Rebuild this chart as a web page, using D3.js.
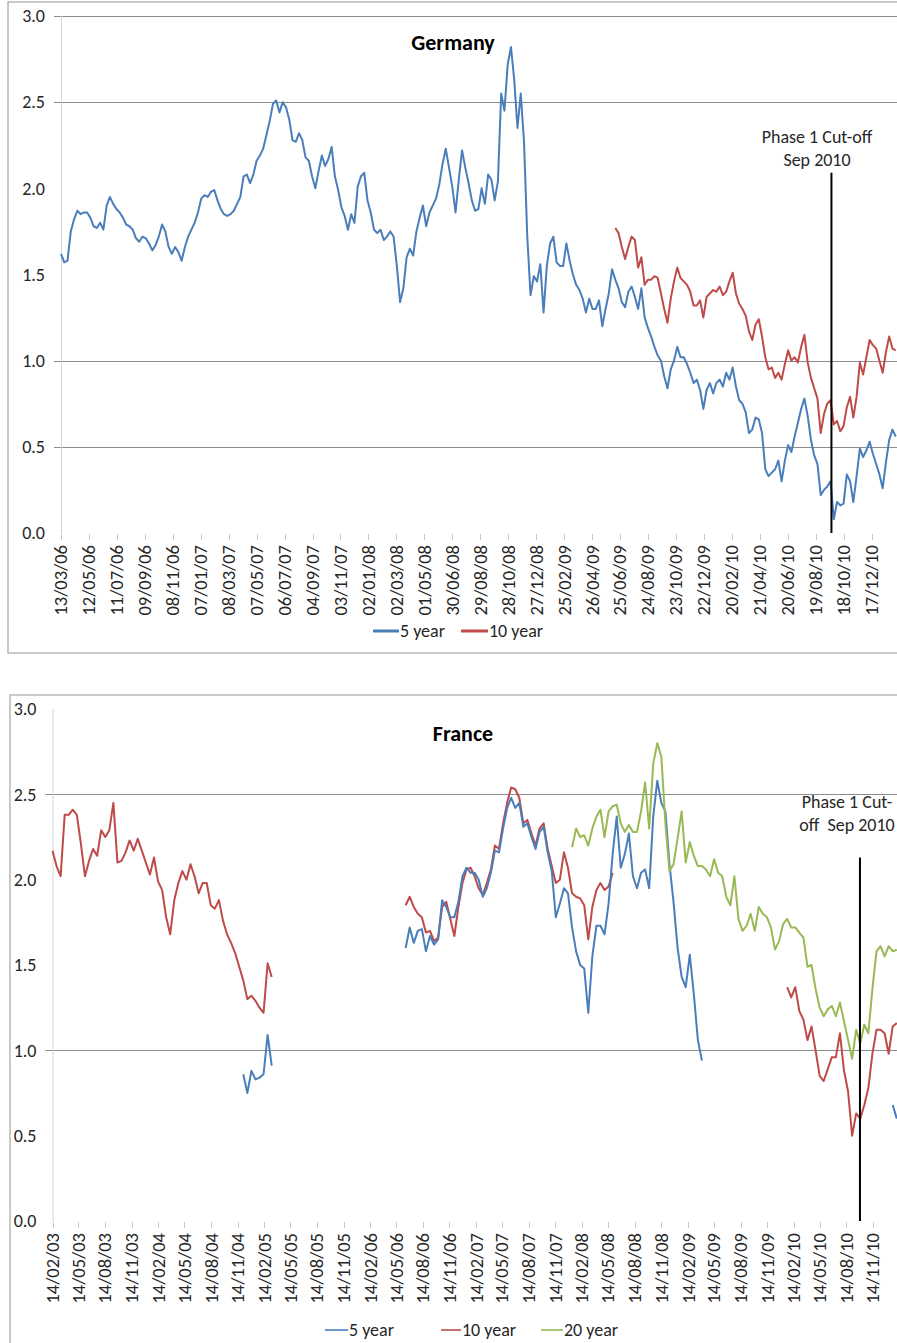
<!DOCTYPE html>
<html>
<head>
<meta charset="utf-8">
<script src="https://cdn.jsdelivr.net/npm/d3@7"></script>
<style>
  html, body { margin: 0; padding: 0; background: #fff; }
  svg { display: block; }
  text { font-family: Carlito, Lato, "Open Sans", sans-serif; fill: #262626; white-space: pre; }
</style>
</head>
<body>
<svg id="chart" width="897" height="1343"></svg>
<script>
// ---------- data ----------
const yTicks = [0, 0.5, 1, 1.5, 2, 2.5, 3];
const deGridValues = [3, 2.5, 1, 0.5];
const frGridValues = [2.5, 1];

const deTickLabels = ["13/03/06","12/05/06","11/07/06","09/09/06","08/11/06","07/01/07","08/03/07",
  "07/05/07","06/07/07","04/09/07","03/11/07","02/01/08","02/03/08","01/05/08","30/06/08","29/08/08",
  "28/10/08","27/12/08","25/02/09","26/04/09","25/06/09","24/08/09","23/10/09","22/12/09","20/02/10",
  "21/04/10","20/06/10","19/08/10","18/10/10","17/12/10"];
const frTickLabels = ["14/02/03","14/05/03","14/08/03","14/11/03","14/02/04","14/05/04","14/08/04",
  "14/11/04","14/02/05","14/05/05","14/08/05","14/11/05","14/02/06","14/05/06","14/08/06","14/11/06",
  "14/02/07","14/05/07","14/08/07","14/11/07","14/02/08","14/05/08","14/08/08","14/11/08","14/02/09",
  "14/05/09","14/08/09","14/11/09","14/02/10","14/05/10","14/08/10","14/11/10"];

// Germany — weekly samples
const de5Start = "2006-03-13";
const de5 = [
  1.62,1.57,1.58,1.75,1.82,1.87,1.85,1.86,1.86,1.83,
  1.78,1.77,1.80,1.76,1.90,1.95,1.91,1.88,1.86,1.83,
  1.79,1.78,1.76,1.71,1.69,1.72,1.71,1.68,1.64,1.67,
  1.72,1.79,1.75,1.66,1.62,1.66,1.63,1.58,1.66,1.72,
  1.76,1.80,1.86,1.94,1.96,1.95,1.98,1.99,1.93,1.88,
  1.85,1.84,1.85,1.87,1.91,1.95,2.07,2.08,2.03,2.08,
  2.16,2.19,2.23,2.31,2.39,2.49,2.51,2.44,2.50,2.47,
  2.40,2.28,2.27,2.32,2.28,2.18,2.16,2.07,2.00,2.10,
  2.19,2.13,2.17,2.24,2.07,1.99,1.89,1.84,1.76,1.85,
  1.80,2.01,2.07,2.09,1.93,1.86,1.76,1.74,1.76,1.70,
  1.72,1.75,1.72,1.55,1.34,1.42,1.60,1.65,1.61,1.75,
  1.83,1.90,1.78,1.86,1.90,1.94,2.02,2.14,2.23,2.12,
  2.01,1.86,2.05,2.22,2.12,2.03,1.93,1.87,1.88,2.00,
  1.91,2.08,2.05,1.93,2.04,2.55,2.45,2.72,2.82,2.63,
  2.35,2.55,2.27,1.72,1.38,1.49,1.46,1.56,1.28,1.55,
  1.68,1.72,1.57,1.55,1.55,1.68,1.58,1.50,1.44,1.41,
  1.36,1.28,1.36,1.30,1.30,1.35,1.20,1.30,1.39,1.53,
  1.47,1.42,1.34,1.31,1.40,1.43,1.37,1.30,1.42,1.25,
  1.19,1.14,1.08,1.03,1.00,0.91,0.84,0.95,1.00,1.08,
  1.02,1.02,0.98,0.93,0.87,0.89,0.83,0.72,0.83,0.87,
  0.81,0.87,0.89,0.85,0.93,0.89,0.96,0.85,0.77,0.75,
  0.70,0.58,0.60,0.67,0.66,0.58,0.37,0.33,0.35,0.37,
  0.42,0.30,0.42,0.51,0.47,0.56,0.64,0.72,0.78,0.68,
  0.54,0.45,0.40,0.22,0.25,0.27,0.30,0.08,0.18,0.16,
  0.17,0.34,0.30,0.18,0.33,0.49,0.44,0.48,0.53,0.46,
  0.40,0.34,0.26,0.41,0.54,0.60,0.56
];
const de10Start = "2009-06-15";
const de10 = [
  1.77,1.74,1.66,1.59,1.66,1.72,1.70,1.54,1.60,1.44,
  1.47,1.47,1.49,1.48,1.39,1.30,1.22,1.36,1.46,1.54,
  1.48,1.46,1.44,1.40,1.32,1.32,1.35,1.25,1.37,1.39,
  1.41,1.40,1.43,1.38,1.40,1.46,1.51,1.39,1.33,1.30,
  1.26,1.17,1.12,1.21,1.24,1.14,1.02,0.95,0.96,0.90,
  0.93,0.89,0.98,1.06,1.00,1.02,0.99,1.08,1.15,0.99,
  0.90,0.84,0.78,0.58,0.69,0.75,0.77,0.63,0.65,0.59,
  0.62,0.73,0.79,0.67,0.79,0.99,0.92,1.02,1.12,1.09,
  1.07,1.00,0.93,1.05,1.14,1.07,1.06
];

// France — fortnightly samples, each run is its own segment
const fr10aStart = "2003-02-14";
const fr10a = [
  2.17,2.08,2.02,2.38,2.38,2.41,2.38,2.21,2.02,2.11,
  2.18,2.14,2.29,2.25,2.29,2.45,2.10,2.11,2.16,2.23,
  2.17,2.24,2.17,2.10,2.03,2.13,1.99,1.94,1.78,1.68,
  1.88,1.98,2.05,2.00,2.09,2.02,1.92,1.98,1.98,1.85,
  1.83,1.88,1.76,1.68,1.63,1.57,1.49,1.41,1.30,1.32,
  1.29,1.25,1.22,1.51,1.43
];
const fr5aStart = "2004-12-03";
const fr5a = [0.86,0.75,0.88,0.83,0.84,0.86,1.09,0.91];

const fr10bStart = "2006-06-16";
const fr10b = [
  1.85,1.90,1.84,1.80,1.78,1.69,1.70,1.64,1.66,1.84,
  1.87,1.77,1.67,1.84,1.98,2.06,2.07,2.02,1.95,1.91,
  1.98,2.06,2.20,2.18,2.33,2.45,2.54,2.53,2.48,2.33,
  2.35,2.27,2.20,2.30,2.33,2.18,2.08,1.98,2.00,2.16,
  2.07,1.92,1.90,1.89,1.85,1.65,1.84,1.94,1.98,1.94,
  1.96,2.04
];
const fr5bStart = "2006-06-16";
const fr5b = [
  1.60,1.72,1.63,1.70,1.71,1.58,1.67,1.62,1.65,1.88,
  1.84,1.78,1.78,1.87,2.02,2.07,2.04,2.04,2.00,1.90,
  1.95,2.04,2.17,2.16,2.30,2.42,2.48,2.42,2.45,2.31,
  2.33,2.25,2.18,2.28,2.31,2.16,2.05,1.78,1.86,1.95,
  1.92,1.72,1.58,1.50,1.48,1.22,1.55,1.73,1.73,1.68,
  1.86,2.15,2.37,2.07,2.15,2.27,2.02,1.95,2.04,2.06,
  1.95,2.37,2.58,2.45,2.40,2.09,1.87,1.60,1.43,1.37,
  1.56,1.33,1.06,0.94
];
const fr20Start = "2008-01-11";
const fr20 = [
  2.19,2.30,2.25,2.26,2.20,2.30,2.37,2.41,2.25,2.40,
  2.43,2.44,2.33,2.28,2.32,2.28,2.28,2.40,2.57,2.30,
  2.68,2.80,2.72,2.33,2.05,2.09,2.24,2.40,2.10,2.22,
  2.14,2.08,2.08,2.06,2.02,2.12,2.04,2.02,1.90,1.85,
  2.02,1.77,1.70,1.73,1.80,1.70,1.84,1.80,1.78,1.72,
  1.59,1.64,1.74,1.77,1.72,1.72,1.69,1.66,1.49,1.50,
  1.36,1.25,1.20,1.24,1.26,1.20,1.28,1.17,1.06,0.95,
  1.12,1.04,1.15,1.10,1.36,1.58,1.61,1.55,1.61,1.58,1.59
];
const fr10cStart = "2010-01-22";
const fr10c = [
  1.37,1.31,1.37,1.23,1.18,1.06,1.14,1.00,0.85,0.82,
  0.89,0.96,0.96,1.10,0.88,0.76,0.50,0.63,0.60,0.68,
  0.78,0.98,1.12,1.12,1.10,0.98,1.14,1.16
];
const fr5cStart = "2011-01-21";
const fr5c = [0.68,0.60];

const phaseDe = { date: "2010-09-22", top: 2.09, lines: ["Phase 1 Cut-off", "Sep 2010"] };
const phaseFr = { date: "2010-09-30", top: 2.13, lines: ["Phase 1 Cut-", "off  Sep 2010"] };

// ---------- helpers ----------
const parseIso = d3.utcParse("%Y-%m-%d");
const parseTick = d3.utcParse("%d/%m/%y");
const colors = { y5: "#4a7ebb", y10: "#be4b48", y20: "#98b954" };

function series(start, stepDays, values) {
  const s = parseIso(start);
  return values.map((v, k) => ({ date: d3.utcDay.offset(s, stepDays * k), value: v }));
}

const svg = d3.select("#chart");

function drawPanel(cfg) {
  const g = svg.append("g");
  const tickDates = cfg.tickLabels.map(parseTick);
  const x = d3.scaleUtc()
    .domain([tickDates[0], tickDates[tickDates.length - 1]])
    .range([cfg.left, cfg.lastTickX]);
  const y = d3.scaleLinear().domain([0, 3]).range([cfg.bottom, cfg.top]);

  // outer frame
  g.append("rect")
    .attr("x", cfg.frame[0]).attr("y", cfg.frame[1])
    .attr("width", cfg.frame[2]).attr("height", cfg.frame[3])
    .attr("fill", "none").attr("stroke", "#a6a6a6").attr("stroke-width", 1.2);

  // horizontal gridlines
  g.selectAll(".grid").data(cfg.grid).join("line")
    .attr("x1", cfg.left - 7).attr("x2", 897)
    .attr("y1", d => Math.round(y(d)) + 0.5).attr("y2", d => Math.round(y(d)) + 0.5)
    .attr("stroke", "#8c8c8c").attr("stroke-width", 1.2);

  // value axis
  g.append("line")
    .attr("x1", cfg.left + 0.5).attr("x2", cfg.left + 0.5)
    .attr("y1", y(3)).attr("y2", y(0))
    .attr("stroke", "#d4d4d4").attr("stroke-width", 1);
  g.selectAll(".ylab").data(yTicks).join("text")
    .attr("x", cfg.left - 16).attr("y", d => y(d)).attr("dy", "0.35em")
    .attr("text-anchor", "end").style("font-size", "18px")
    .text(d => d3.format(".1f")(d));

  // date axis
  g.selectAll(".xtick").data(tickDates).join("line")
    .attr("x1", d => Math.round(x(d)) + 0.5).attr("x2", d => Math.round(x(d)) + 0.5)
    .attr("y1", cfg.bottom + 1).attr("y2", cfg.bottom + 7)
    .attr("stroke", "#c8c8c8").attr("stroke-width", 1);
  g.selectAll(".xlab").data(tickDates).join("text")
    .attr("transform", d => `translate(${x(d)},${cfg.bottom + 12}) rotate(-90)`)
    .attr("text-anchor", "end").attr("dy", "0.35em").style("font-size", "18.5px")
    .text((d, i) => cfg.tickLabels[i]);

  // series lines
  const line = d3.line().x(d => x(d.date)).y(d => y(d.value));
  cfg.series.forEach(s => {
    g.append("path").datum(s.points)
      .attr("fill", "none").attr("stroke", s.color)
      .attr("stroke-width", 2).attr("stroke-linejoin", "round")
      .attr("d", line);
  });

  // cut-off marker
  const px = x(parseIso(cfg.phase.date));
  g.append("line")
    .attr("x1", px).attr("x2", px)
    .attr("y1", y(cfg.phase.top)).attr("y2", y(0))
    .attr("stroke", "#000").attr("stroke-width", 2);
  cfg.phase.lines.forEach((t, i) => {
    g.append("text")
      .attr("x", cfg.phaseText[0]).attr("y", cfg.phaseText[1] + i * 23)
      .attr("text-anchor", "middle").style("font-size", "18px")
      .text(t);
  });

  // title
  g.append("text")
    .attr("x", cfg.title[1]).attr("y", cfg.title[2])
    .attr("text-anchor", "middle")
    .style("font-size", "22px").style("font-weight", "bold").style("fill", "#000")
    .text(cfg.title[0]);

  // legend
  cfg.legend.forEach(l => {
    g.append("line")
      .attr("x1", l.x).attr("x2", l.x + l.len)
      .attr("y1", cfg.legendY).attr("y2", cfg.legendY)
      .attr("stroke", l.color).attr("stroke-width", cfg.legendStroke);
    g.append("text")
      .attr("x", l.x + l.len + 1).attr("y", cfg.legendY).attr("dy", "0.35em")
      .style("font-size", "18px")
      .text(l.label);
  });
}

drawPanel({
  frame: [8, 2, 895, 651],
  left: 61, lastTickX: 871.5, top: 16, bottom: 533,
  grid: deGridValues,
  tickLabels: deTickLabels,
  series: [
    { points: series(de5Start, 7, de5), color: colors.y5 },
    { points: series(de10Start, 7, de10), color: colors.y10 }
  ],
  phase: phaseDe, phaseText: [817, 143],
  title: ["Germany", 453, 50],
  legendY: 631, legendStroke: 3,
  legend: [
    { label: "5 year", color: colors.y5, x: 373, len: 26 },
    { label: "10 year", color: colors.y10, x: 461, len: 27 }
  ]
});

drawPanel({
  frame: [10, 695, 893, 652],
  left: 52.5, lastTickX: 873, top: 709, bottom: 1221,
  grid: frGridValues,
  tickLabels: frTickLabels,
  series: [
    { points: series(fr10aStart, 14, fr10a), color: colors.y10 },
    { points: series(fr5aStart, 14, fr5a), color: colors.y5 },
    { points: series(fr10bStart, 14, fr10b), color: colors.y10 },
    { points: series(fr5bStart, 14, fr5b), color: colors.y5 },
    { points: series(fr20Start, 14, fr20), color: colors.y20 },
    { points: series(fr10cStart, 14, fr10c), color: colors.y10 },
    { points: series(fr5cStart, 14, fr5c), color: colors.y5 }
  ],
  phase: phaseFr, phaseText: [847, 808],
  title: ["France", 463, 741],
  legendY: 1330, legendStroke: 1.6,
  legend: [
    { label: "5 year", color: colors.y5, x: 325, len: 23 },
    { label: "10 year", color: colors.y10, x: 441, len: 20 },
    { label: "20 year", color: colors.y20, x: 541, len: 22 }
  ]
});
</script>
</body>
</html>
